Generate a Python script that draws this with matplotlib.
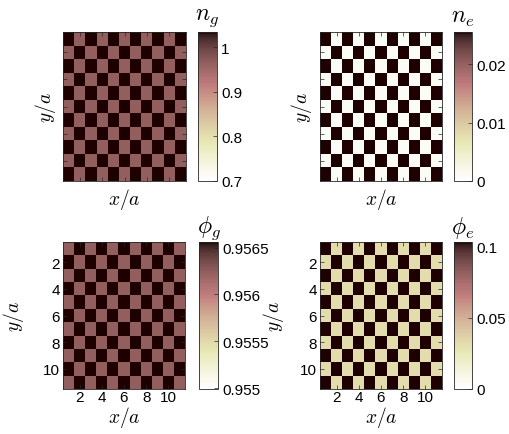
import numpy as np
import matplotlib
matplotlib.use("Agg")
import matplotlib.pyplot as plt
from matplotlib.ticker import FuncFormatter

plt.rcParams['mathtext.fontset'] = 'cm'
plt.rcParams['font.family'] = ['Liberation Sans', 'DejaVu Sans']

# Lattice size (sites per side)
n_sites = 11

# Two sublattice values per field: (value on even sites, value on odd sites)
ng_values = [1.034, 0.965]
ne_values = [0.0255, 0.0008]
phig_values = [0.95624, 0.95656]
phie_values = [0.103, 0.031]

# Colour limits and colorbar ticks
ng_clim = [0.7, 1.034]
ne_clim = [0.0, 0.0255]
phig_clim = [0.95499, 0.95656]
phie_clim = [0.0, 0.103]

ng_ticks = [0.7, 0.8, 0.9, 1.0]
ne_ticks = [0.0, 0.01, 0.02]
phig_ticks = [0.955, 0.9555, 0.956, 0.9565]
phie_ticks = [0.0, 0.05, 0.1]

axis_ticks = [2, 4, 6, 8, 10]

titles = [r'$n_g$', r'$n_e$', r'$\phi_g$', r'$\phi_e$']

EDGE = (0.15, 0.15, 0.15)


def checkerboard(values):
    """Place the two sublattice values on an n x n board"""
    i, j = np.indices((n_sites, n_sites))
    parity = (i + j) % 2
    return np.where(parity == 0, values[0], values[1])


def style_axes(ax, show_labels):
    ax.set_xticks(axis_ticks)
    ax.set_yticks(axis_ticks)
    ax.tick_params(direction='in', length=3, width=0.5, color=EDGE,
                   top=True, right=True, labelsize=11, pad=2)
    ax.tick_params(axis='x', pad=1)
    if not show_labels:
        ax.set_xticklabels([])
        ax.set_yticklabels([])
    for s in ax.spines.values():
        s.set_color(EDGE)
        s.set_linewidth(0.6)


fig = plt.figure(figsize=(5.09, 4.35), dpi=100)

W, H = 509.0, 435.0

# panel geometry in pixels: (left, top, right, bottom) for axes and colorbar
panels = [
    dict(ax=(63, 33, 186, 182), cb=(198, 33, 217, 182), data=ng_values,
         clim=ng_clim, ticks=ng_ticks, labels=False, ylab_x=45, xlab_y=205),
    dict(ax=(320, 33, 442, 182), cb=(454, 33, 472, 182), data=ne_values,
         clim=ne_clim, ticks=ne_ticks, labels=False, ylab_x=301, xlab_y=205),
    dict(ax=(63, 243, 185, 390), cb=(199, 243, 218, 390), data=phig_values,
         clim=phig_clim, ticks=phig_ticks, labels=True, ylab_x=14, xlab_y=423),
    dict(ax=(320, 243, 442, 390), cb=(454, 243, 472, 390), data=phie_values,
         clim=phie_clim, ticks=phie_ticks, labels=True, ylab_x=274, xlab_y=423),
]


def rect(box):
    l, t, r, b = box
    return [l / W, 1 - b / H, (r - l) / W, (b - t) / H]


for p, title in zip(panels, titles):
    ax = fig.add_axes(rect(p['ax']))
    grid = checkerboard(p['data'])
    im = ax.imshow(grid, cmap='pink_r', vmin=p['clim'][0], vmax=p['clim'][1],
                   extent=[0.5, n_sites + 0.5, n_sites + 0.5, 0.5],
                   aspect='auto', interpolation='nearest')
    style_axes(ax, p['labels'])

    # axis labels placed in figure pixels
    l, t, r, b = p['ax']
    fig.text((l + r) / 2 / W, 1 - p['xlab_y'] / H, r'$x/a$', fontsize=14,
             ha='center', va='baseline')
    fig.text(p['ylab_x'] / W, 1 - (t + b) / 2 / H, r'$y/a$', fontsize=14,
             ha='center', va='center', rotation=90)

    cax = fig.add_axes(rect(p['cb']))
    cb = fig.colorbar(im, cax=cax, ticks=p['ticks'])
    cb.ax.yaxis.set_major_formatter(FuncFormatter(lambda v, pos: f"{v:g}"))
    cb.ax.tick_params(direction='in', length=3, width=0.5, color=EDGE,
                      labelsize=11, pad=3)
    cb.outline.set_edgecolor(EDGE)
    cb.outline.set_linewidth(0.6)
    cl, ct, cr, cbm = p['cb']
    fig.text((cl + cr) / 2 / W, 1 - (ct - 15) / H, title, fontsize=17,
             ha='center', va='center')

fig.savefig("out.png", dpi=100)
